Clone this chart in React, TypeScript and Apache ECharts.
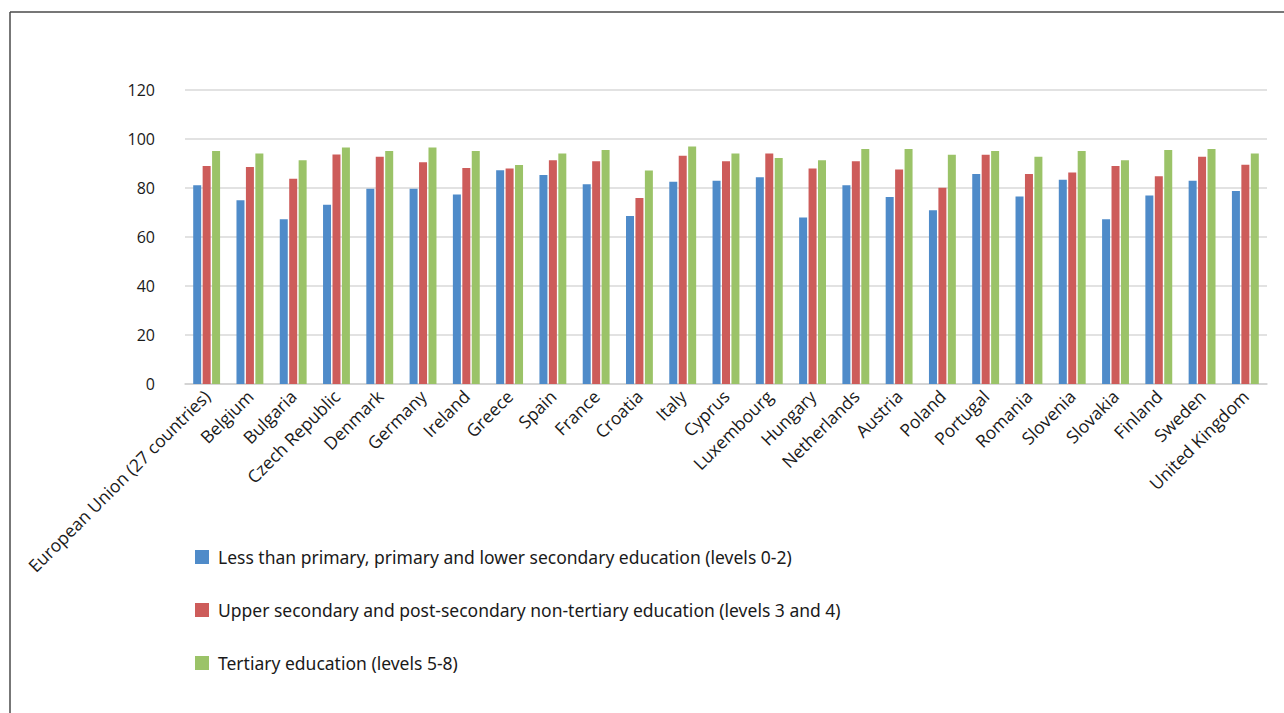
import React, { useEffect, useRef } from "react";
import * as echarts from "echarts";

// Countries along the category axis
const countries: string[] = [
  "European Union (27 countries)",
  "Belgium",
  "Bulgaria",
  "Czech Republic",
  "Denmark",
  "Germany",
  "Ireland",
  "Greece",
  "Spain",
  "France",
  "Croatia",
  "Italy",
  "Cyprus",
  "Luxembourg",
  "Hungary",
  "Netherlands",
  "Austria",
  "Poland",
  "Portugal",
  "Romania",
  "Slovenia",
  "Slovakia",
  "Finland",
  "Sweden",
  "United Kingdom",
];

const seriesNames: string[] = [
  "Less than primary, primary and lower secondary education (levels 0-2)",
  "Upper secondary and post-secondary non-tertiary education (levels 3 and 4)",
  "Tertiary education (levels 5-8)",
];

// Levels 0-2
const lowerSecondary: number[] = [
  81.1, 75.0, 67.2, 73.2, 79.7, 79.7, 77.3, 87.2, 85.3, 81.5, 68.6, 82.6, 83.0,
  84.4, 68.0, 81.1, 76.3, 70.9, 85.7, 76.5, 83.4, 67.2, 76.9, 83.0, 78.8,
];

// Levels 3 and 4
const upperSecondary: number[] = [
  89.0, 88.6, 83.8, 93.7, 92.8, 90.5, 88.2, 88.0, 91.3, 90.9, 75.9, 93.2, 90.9,
  94.1, 88.0, 90.9, 87.6, 80.1, 93.6, 85.7, 86.3, 89.0, 84.8, 92.8, 89.5,
];

// Levels 5-8
const tertiary: number[] = [
  95.1, 94.1, 91.3, 96.5, 95.1, 96.5, 95.1, 89.4, 94.1, 95.5, 87.1, 96.9, 94.1,
  92.2, 91.3, 95.9, 95.9, 93.6, 95.1, 92.8, 95.1, 91.3, 95.5, 95.9, 94.1,
];

const yTicks = { min: 0, max: 120, interval: 20 };

const colors = ["#4f8bc9", "#cd5c5a", "#9bc368"];

export default function App() {
  const ref = useRef<HTMLDivElement>(null);

  useEffect(() => {
    if (!ref.current) return;
    const chart = echarts.init(ref.current, undefined, { renderer: "svg" });
    const values = [lowerSecondary, upperSecondary, tertiary];

    chart.setOption({
      animation: false,
      backgroundColor: "#ffffff",
      color: colors,
      textStyle: { fontFamily: "'Open Sans', 'Noto Sans', sans-serif" },
      grid: { left: 185, right: 17, top: 90, bottom: 329, containLabel: false },
      xAxis: {
        type: "category",
        data: countries,
        axisLine: { lineStyle: { color: "#d0d0d0", width: 1.5 } },
        axisTick: { show: false },
        axisLabel: {
          interval: 0,
          rotate: 45,
          margin: 9,
          fontSize: 17.5,
          color: "#1a1a1a",
          fontFamily: "'Open Sans', sans-serif",
        },
      },
      yAxis: {
        type: "value",
        min: yTicks.min,
        max: yTicks.max,
        interval: yTicks.interval,
        axisLine: { show: false },
        axisTick: { show: false },
        axisLabel: {
          margin: 30,
          fontSize: 16,
          color: "#1a1a1a",
          fontFamily: "'Open Sans', sans-serif",
        },
        splitLine: { lineStyle: { color: "#d9d9d9", width: 1.5 } },
      },
      legend: {
        orient: "vertical",
        left: 190,
        top: 543,
        itemWidth: 14,
        itemHeight: 14,
        itemGap: 35,
        icon: "rect",
        data: seriesNames,
        textStyle: {
          fontSize: 17.5,
          color: "#1a1a1a",
          fontFamily: "'Noto Sans', sans-serif",
          padding: [0, 0, 0, 4],
        },
      },
      series: seriesNames.map((name, i) => ({
        name,
        type: "bar",
        data: values[i],
        barWidth: 8,
        barGap: "18%",
        itemStyle: { color: colors[i] },
      })),
      graphic: [
        {
          type: "line",
          shape: { x1: 10, y1: 12, x2: 1284, y2: 12 },
          style: { stroke: "#4a4a4a", lineWidth: 1.5 },
          silent: true,
        },
        {
          type: "line",
          shape: { x1: 10, y1: 12, x2: 10, y2: 713 },
          style: { stroke: "#4a4a4a", lineWidth: 1.5 },
          silent: true,
        },
      ],
    });

    return () => chart.dispose();
  }, []);

  return (
    <div
      ref={ref}
      style={{ position: "absolute", left: 0, top: 0, width: 1284, height: 713 }}
    />
  );
}
